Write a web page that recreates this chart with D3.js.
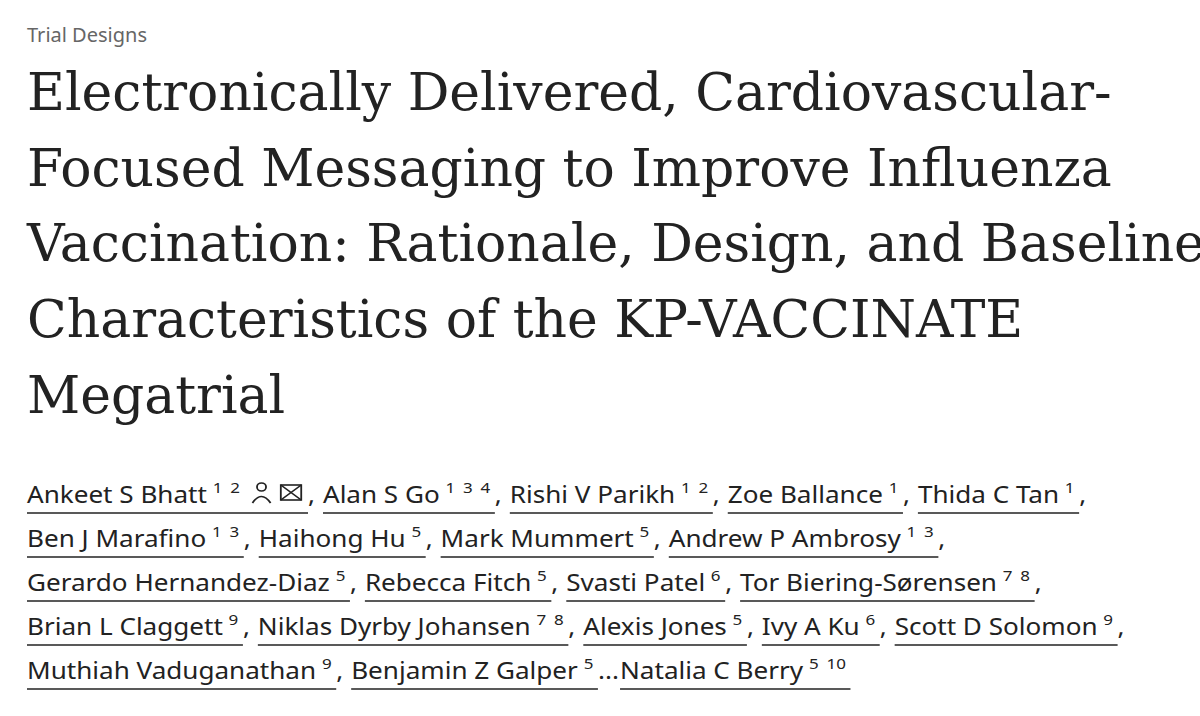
<!DOCTYPE html>
<html><head><meta charset="utf-8">
<script src="https://cdn.jsdelivr.net/npm/d3@7"></script>
<style>body{margin:0;background:#fff}</style>
</head><body>
<script>
const section = "Trial Designs";
const titleLines = [
  "Electronically Delivered, Cardiovascular-",
  "Focused Messaging to Improve Influenza",
  "Vaccination: Rationale, Design, and Baseline",
  "Characteristics of the KP-VACCINATE",
  "Megatrial"
];
// author rows: [name, affiliations, separator after]
const authorRows = [
  [["Ankeet S Bhatt", "1 2", ","], ["Alan S Go", "1 3 4", ","], ["Rishi V Parikh", "1 2", ","], ["Zoe Ballance", "1", ","], ["Thida C Tan", "1", ","]],
  [["Ben J Marafino", "1 3", ","], ["Haihong Hu", "5", ","], ["Mark Mummert", "5", ","], ["Andrew P Ambrosy", "1 3", ","]],
  [["Gerardo Hernandez-Diaz", "5", ","], ["Rebecca Fitch", "5", ","], ["Svasti Patel", "6", ","], ["Tor Biering-Sørensen", "7 8", ","]],
  [["Brian L Claggett", "9", ","], ["Niklas Dyrby Johansen", "7 8", ","], ["Alexis Jones", "5", ","], ["Ivy A Ku", "6", ","], ["Scott D Solomon", "9", ","]],
  [["Muthiah Vaduganathan", "9", ","], ["Benjamin Z Galper", "5", "..."], ["Natalia C Berry", "5 10", ""]]
];
const correspondingAuthor = "Ankeet S Bhatt";

const W = 1200, H = 716, left = 27;
const ink = "#222";
const svg = d3.select("body").append("svg").attr("width", W).attr("height", H);

svg.append("text").attr("x", left).attr("y", 42)
  .attr("font-family", "Noto Sans").attr("font-size", 20).attr("fill", "#666")
  .text(section);

// title
const titleG = svg.append("g");
const tl = titleG.selectAll("text").data(titleLines).join("text")
  .attr("x", 0).attr("y", (d, i) => 110 + i * 75.7)
  .attr("font-family", "DejaVu Serif").attr("font-size", 52).attr("fill", ink)
  .text(d => d);
const sx = 1085 / tl.node().getComputedTextLength();
titleG.attr("transform", `translate(${left},0) scale(${sx},1)`);

// authors
const authG = svg.append("g");
const nameSize = 23, supSize = 15;
function measure(txt, size) {
  const t = authG.append("text").attr("font-family", "Noto Sans").attr("font-size", size).text(txt);
  const w = t.node().getComputedTextLength(); t.remove(); return w;
}
const rowG = authG.append("g");
authorRows.forEach((row, r) => {
  const y = 503 + r * 44;
  let x = 0;
  row.forEach(([name, aff, sep]) => {
    const x0 = x;
    rowG.append("text").attr("x", x).attr("y", y).attr("font-family", "Noto Sans")
      .attr("font-size", nameSize).attr("fill", ink).text(name);
    x += measure(name, nameSize) + 5;
    rowG.append("text").attr("x", x).attr("y", y - 10).attr("font-family", "Noto Sans")
      .attr("font-size", supSize).attr("fill", ink).attr("word-spacing", 3).text(aff);
    x += measure(aff, supSize) + (aff.split(" ").length - 1) * 3 + 2;
    if (name === correspondingAuthor) {
      const ic = rowG.append("g").attr("fill", "none").attr("stroke", ink).attr("stroke-width", 1.6);
      x += 8;
      ic.append("circle").attr("cx", x + 9).attr("cy", y - 16).attr("r", 4);
      ic.append("path").attr("d", `M${x + 1},${y} Q${x + 9},${y - 13} ${x + 17},${y}`);
      x += 26;
      ic.append("rect").attr("x", x).attr("y", y - 18).attr("width", 18).attr("height", 15);
      ic.append("path").attr("d", `M${x},${y - 18} L${x + 18},${y - 3} M${x + 18},${y - 18} L${x},${y - 3}`);
      x += 22;
    }
    rowG.append("line").attr("x1", x0).attr("x2", x + 2).attr("y1", y + 10).attr("y2", y + 10)
      .attr("stroke", ink).attr("stroke-width", 1.5);
    x += 2;
    if (sep) {
      rowG.append("text").attr("x", x).attr("y", y).attr("font-family", "Noto Sans")
        .attr("font-size", nameSize).attr("fill", ink).text(sep);
      x += measure(sep, nameSize) + (sep === "," ? 7 : 1);
    }
  });
  if (r === 0) rowG.attr("data-w", x);
});
const asx = 1058 / (+rowG.attr("data-w") - 8);
rowG.attr("transform", `translate(${left},0) scale(${asx},1)`);
</script>
</body></html>
